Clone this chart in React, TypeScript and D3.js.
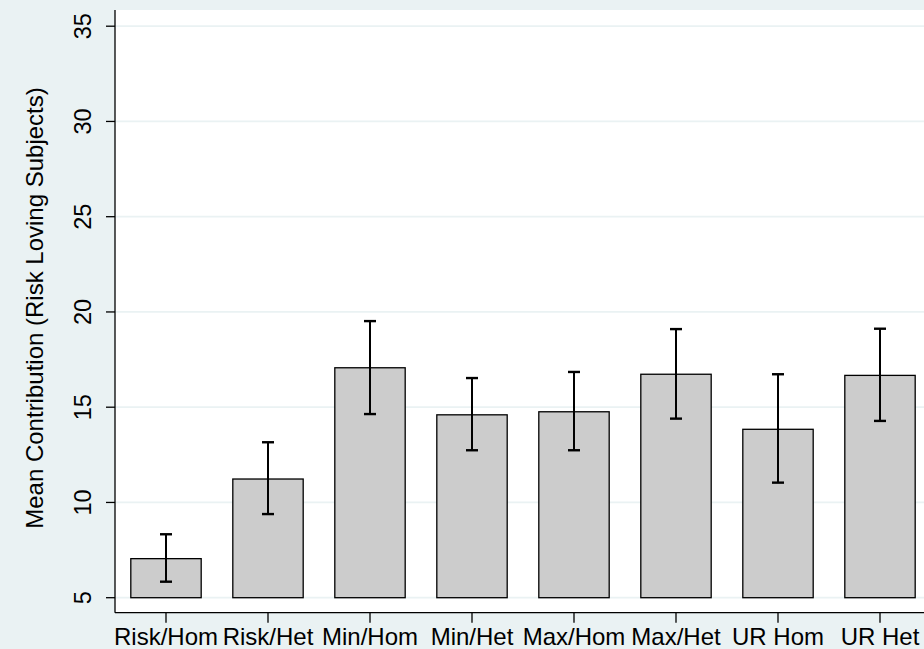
import React from "react";
import * as d3 from "d3";

const categories = ["Risk/Hom", "Risk/Het", "Min/Hom", "Min/Het", "Max/Hom", "Max/Het", "UR Hom", "UR Het"];
const means = [7.05, 11.23, 17.07, 14.6, 14.76, 16.73, 13.84, 16.67];
const lower = [5.84, 9.39, 14.64, 12.74, 12.74, 14.4, 11.04, 14.28];
const upper = [8.33, 13.16, 19.52, 16.53, 16.85, 19.1, 16.73, 19.12];
const yTicks = [5, 10, 15, 20, 25, 30, 35];
const yTitle = "Mean Contribution (Risk Loving Subjects)";

const W = 924;
const H = 649;
const FONT = "Liberation Sans, Arial, sans-serif";

export default function App() {
  const plotLeft = 115;
  const plotTop = 10;
  const plotBottom = 612.7;
  const x = d3.scaleBand<string>().domain(categories).range([115, 931]).paddingInner(0.31).paddingOuter(0.155);
  const y = d3.scaleLinear().domain([5, 35]).range([597.7, 26.2]);
  const bw = x.bandwidth();
  const capW = 12;

  return (
    <svg width={W} height={H} style={{ position: "absolute", left: 0, top: 0 }} fontFamily={FONT}>
      <rect x={0} y={0} width={W} height={H} fill="#eaf2f3" />
      <rect x={plotLeft} y={plotTop} width={W - plotLeft} height={plotBottom - plotTop} fill="#ffffff" />
      {yTicks.map((t) => (
        <line key={"g" + t} x1={plotLeft} x2={W} y1={y(t)} y2={y(t)} stroke="#eaf2f3" strokeWidth={1.8} />
      ))}
      {categories.map((c, i) => {
        const x0 = x(c)!;
        const cx = x0 + bw / 2;
        return (
          <g key={c}>
            <rect x={x0} y={y(means[i])} width={bw} height={y(5) - y(means[i])} fill="#cccccc" stroke="#000000" strokeWidth={1.3} />
            <line x1={cx} x2={cx} y1={y(lower[i])} y2={y(upper[i])} stroke="#000" strokeWidth={2} />
            <line x1={cx - capW / 2} x2={cx + capW / 2} y1={y(lower[i])} y2={y(lower[i])} stroke="#000" strokeWidth={2.4} />
            <line x1={cx - capW / 2} x2={cx + capW / 2} y1={y(upper[i])} y2={y(upper[i])} stroke="#000" strokeWidth={2.4} />
          </g>
        );
      })}
      <line x1={plotLeft} x2={plotLeft} y1={plotTop} y2={plotBottom} stroke="#000" strokeWidth={1.3} />
      <line x1={plotLeft} x2={W} y1={plotBottom} y2={plotBottom} stroke="#000" strokeWidth={1.3} />
      {yTicks.map((t) => (
        <g key={"t" + t}>
          <line x1={106} x2={plotLeft} y1={y(t)} y2={y(t)} stroke="#000" strokeWidth={1.3} />
          <text transform={`translate(91,${y(t)}) rotate(-90)`} textAnchor="middle" fontSize={23.5} fill="#000">
            {t}
          </text>
        </g>
      ))}
      {categories.map((c) => {
        const cx = x(c)! + bw / 2;
        return (
          <g key={"x" + c}>
            <line x1={cx} x2={cx} y1={plotBottom} y2={plotBottom + 10} stroke="#000" strokeWidth={1.3} />
            <text x={cx} y={645} textAnchor="middle" fontSize={24} fill="#000">
              {c}
            </text>
          </g>
        );
      })}
      <text transform={`translate(43,308) rotate(-90)`} textAnchor="middle" fontSize={24} fill="#000">
        {yTitle}
      </text>
    </svg>
  );
}
